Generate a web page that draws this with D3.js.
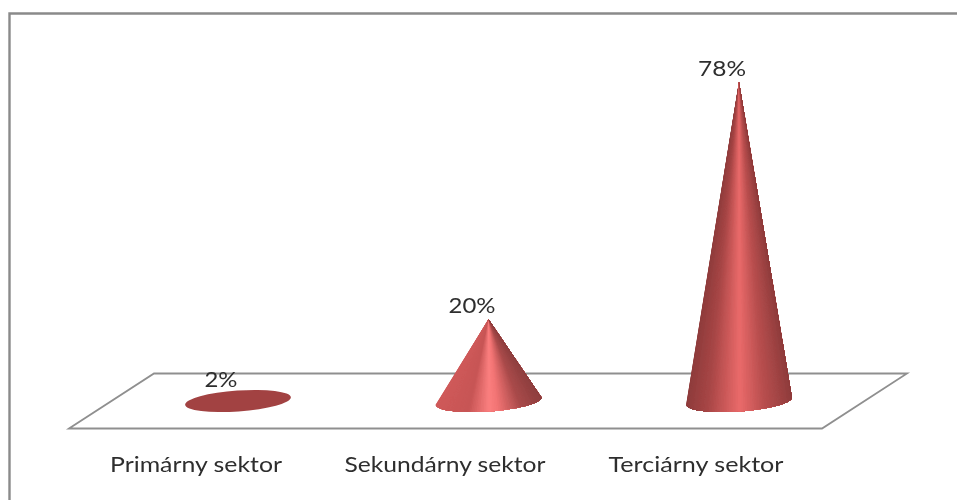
<!DOCTYPE html>
<html><head><meta charset="utf-8">
<script src="https://cdn.jsdelivr.net/npm/d3@7/dist/d3.min.js"></script>
<style>html,body{margin:0;padding:0;background:#fff}svg{display:block}text{font-family:Lato,"Open Sans",sans-serif;fill:#2e2e2e}</style>
</head><body><svg id="c" width="957" height="500"></svg>
<script>
const categories = ["Primárny sektor","Sekundárny sektor","Terciárny sektor"];
const values = [2,20,78];
const labels = ["2%","20%","78%"];
const svg=d3.select("#c");
const x=d3.scalePoint().domain(categories).range([238,739]);
const y=d3.scaleLinear().domain([0,78]).range([401,82]);
const rx=53,ry=10.5,tilt=-4*Math.PI/180;
const shadeTall=d3.scaleLinear().domain([0,0.2,0.5,0.72,1]).range(["#8f3c3c","#a84646","#ea6a6a","#bb5050","#8f3c3c"]);
const shadeShort=d3.scaleLinear().domain([0,0.3,0.5,0.58,0.8,1]).range(["#cf5a5a","#c75555","#fb7f7f","#f27474","#a94a4a","#8f3f3f"]);
const defs=svg.append("defs");
const soft=defs.append("filter").attr("id","soft").attr("x","-5%").attr("y","-5%").attr("width","110%").attr("height","110%");
soft.append("feGaussianBlur").attr("stdDeviation",0.5);
const softText=defs.append("filter").attr("id","softText").attr("x","-5%").attr("y","-5%").attr("width","110%").attr("height","110%");
softText.append("feGaussianBlur").attr("stdDeviation",0.3);
const pt=(cx,cy,th)=>[cx+rx*Math.cos(th)*Math.cos(tilt)-ry*Math.sin(th)*Math.sin(tilt),cy+rx*Math.cos(th)*Math.sin(tilt)+ry*Math.sin(th)*Math.cos(tilt)];
// frame
svg.append("path").attr("d","M9.5,500V13.5H957").attr("fill","none").attr("stroke","#8a8a8a").attr("stroke-width",2.4);
// floor
svg.append("path").attr("d","M69,428.5L154,373.5H907L822,428.5Z").attr("fill","#fff").attr("stroke","#8f8f8f").attr("stroke-width",1.8);
// marks
const plot=svg.append("g").attr("filter","url(#soft)");
categories.forEach((c,i)=>{
  const v=values[i],cx=x(c),cy=y(0);
  if(v<5){
    plot.append("ellipse").attr("cx",cx).attr("cy",cy).attr("rx",rx).attr("ry",ry)
      .attr("transform",`rotate(${tilt*180/Math.PI} ${cx} ${cy})`).attr("fill","#a24343");
    return;
  }
  const shade=v>50?shadeTall:shadeShort;
  const n=90,tip=[cx,y(v)];
  const g=plot.append("g");
  // painter's order: each wedge covers everything still to the right, so there are no seams
  g.selectAll("path").data(d3.range(n)).join("path")
   .attr("d",k=>{
     const arc=d3.range(k,n+1).map(j=>pt(cx,cy,Math.PI-Math.PI*j/n));
     return "M"+tip+"L"+arc.join("L")+"Z";
   })
   .attr("fill",k=>shade((1-Math.cos(Math.PI*(k+.5)/n))/2));
});
// category labels
const catX=[196,445,696],catW=[172,201,175];
const txt=svg.append("g").attr("filter","url(#softText)");
txt.append("g").selectAll("text").data(categories).join("text")
 .attr("x",(d,i)=>catX[i]-catW[i]/2).attr("y",472).attr("font-size",21)
 .attr("textLength",(d,i)=>catW[i]).attr("lengthAdjust","spacingAndGlyphs").text(d=>d);
// value labels
const labX=[221,472,722],labW=[33,47,48];
txt.append("g").selectAll("text").data(categories).join("text")
 .attr("x",(d,i)=>labX[i]-labW[i]/2).attr("y",(d,i)=>y(values[i])-6).attr("font-size",21)
 .attr("textLength",(d,i)=>labW[i]).attr("lengthAdjust","spacingAndGlyphs").text((d,i)=>labels[i]);
</script></body></html>
